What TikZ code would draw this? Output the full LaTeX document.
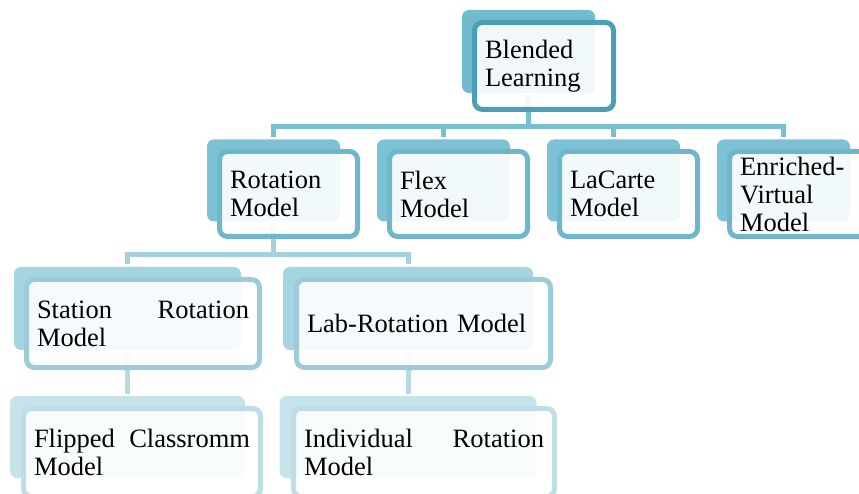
\documentclass[tikz,border=0pt]{standalone}
\usepackage{fontspec}
\setmainfont{Liberation Serif}
\usetikzlibrary{positioning}

\definecolor{edge1}{HTML}{4A9EB5}
\definecolor{fill1}{HTML}{72BBCE}
\definecolor{edge2}{HTML}{6DB6CB}
\definecolor{fill2}{HTML}{7DC2D4}
\definecolor{edge3}{HTML}{9DCBDA}
\definecolor{fill3}{HTML}{A6D5E2}
\definecolor{edge4}{HTML}{BFDDE6}
\definecolor{fill4}{HTML}{C6E3EB}
\definecolor{link1}{HTML}{78BFD1}
\definecolor{link2}{HTML}{A3D1DE}
\definecolor{link3}{HTML}{B5DAE4}

\begin{document}
\begin{tikzpicture}[x=1pt, y=-1pt, line width=5pt, font=\fontsize{26.5}{28}\selectfont]
    \clip (0,0) rectangle (859,494);
    % Define styles
    \tikzstyle{back} = [rectangle, rounded corners=7pt, inner sep=0pt, draw=none]
    \tikzstyle{front} = [rectangle, rounded corners=8pt, inner sep=0pt, fill=white, fill opacity=0.9, text opacity=1, align=left]
    \tikzstyle{back1} = [back, fill=fill1, minimum width=133pt, minimum height=83pt]
    \tikzstyle{back2} = [back, fill=fill2, minimum width=133pt, minimum height=82pt]
    \tikzstyle{back3} = [back, fill=fill3, minimum height=83pt]
    \tikzstyle{back4} = [back, fill=fill4, minimum height=82pt]
    \tikzstyle{front1} = [front, draw=edge1, minimum width=139pt, minimum height=87pt, text width=118pt]
    \tikzstyle{front2} = [front, draw=edge2, minimum width=138pt, minimum height=85pt, text width=117pt]
    \tikzstyle{front3} = [front, draw=edge3, minimum height=88pt]
    \tikzstyle{front4} = [front, draw=edge4, minimum height=88pt]
    \tikzstyle{conn1} = [draw=link1]
    \tikzstyle{conn2} = [draw=link2]
    \tikzstyle{conn3} = [draw=link3]

    % BACK SHAPES
    \node (bl_back) [back1] at (528.5,51.5) {};
    \node (rot_back) [back2] at (273.5,180.5) {};
    \node (flex_back) [back2] at (443.5,180.5) {};
    \node (lac_back) [back2] at (613.5,180.5) {};
    \node (env_back) [back2] at (783.5,180.5) {};
    \node (sta_back) [back3, minimum width=227pt] at (127.5,308.5) {};
    \node (lab_back) [back3, minimum width=250pt] at (408,308.5) {};
    \node (fli_back) [back4, minimum width=235pt] at (127.5,437) {};
    \node (ind_back) [back4, minimum width=257pt] at (408,437) {};

    % CONNECTIONS
    \draw[conn1] (bl_back.south) -- ++(0,31.5) -| (rot_back.north);
    \draw[conn1] (bl_back.south) -- ++(0,31.5) -| (flex_back.north);
    \draw[conn1] (bl_back.south) -- ++(0,31.5) -| (lac_back.north);
    \draw[conn1] (bl_back.south) -- ++(0,31.5) -| (env_back.north);
    \draw[conn2] (rot_back.south) -- ++(0,30.5) -| (sta_back.north);
    \draw[conn2] (rot_back.south) -- ++(0,30.5) -| (lab_back.north);
    \draw[conn3] (sta_back.south) -- (fli_back.north);
    \draw[conn3] (lab_back.south) -- (ind_back.north);

    % FRONT SHAPES
    \node (bl_front) [front1] at (544,66) {Blended\\Learning};
    \node (rot_front) [front2] at (288.5,194) {Rotation\\Model};
    \node (flex_front) [front2] at (458.5,194) {Flex\\Model};
    \node (lac_front) [front2] at (628.5,194) {LaCarte\\Model};
    \node (env_front) [front2] at (798.5,194) {Enriched-\\Virtual\\Model};
    \node (sta_front) [front3, minimum width=233pt, text width=212pt] at (143,323.5) {Station\hfill Rotation\\Model};
    \node (lab_front) [front3, minimum width=254pt, text width=233pt] at (423.5,323.5) {Lab-Rotation Model};
    \node (fli_front) [front4, minimum width=237pt, text width=216pt] at (142,452.5) {Flipped\hfill Classromm\\Model};
    \node (ind_front) [front4, minimum width=261pt, text width=240pt] at (424,452.5) {Individual\hfill Rotation\\Model};
\end{tikzpicture}
\end{document}
